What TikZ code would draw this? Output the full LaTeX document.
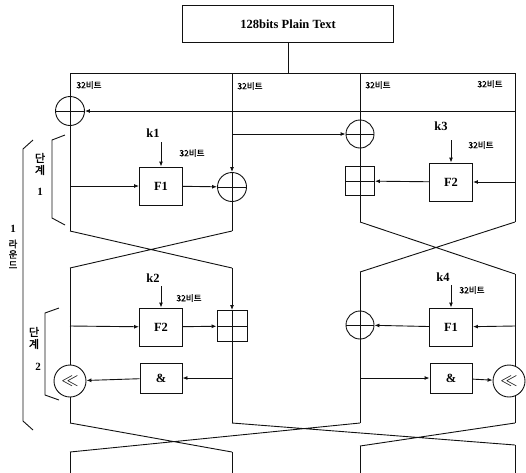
\documentclass[tikz,border=0pt]{standalone}
\usepackage{fontspec}
\setmainfont{Liberation Serif}
\newfontfamily\kr[FakeBold=1.5]{Noto Sans CJK KR}
\usetikzlibrary{positioning,arrows.meta}
\definecolor{ink}{HTML}{111111}

\tikzset{
  lane/.style={draw=ink,line width=0.9pt},
  arr/.style={lane,-{Latex[length=5pt,width=4pt]}},
  fbox/.style={draw=ink,line width=0.9pt,fill=white,minimum width=43pt,minimum height=38pt,
    inner sep=0pt,font=\bfseries\fontsize{12.5}{14}\selectfont},
  andbox/.style={fbox,minimum width=42pt,minimum height=30pt},
  xorop/.style={circle,draw=ink,line width=0.9pt,fill=white,minimum size=29pt,inner sep=0pt,
    path picture={\draw[ink,line width=0.9pt]
      (path picture bounding box.north) -- (path picture bounding box.south)
      (path picture bounding box.west) -- (path picture bounding box.east);}},
  addop/.style={xorop,rectangle,minimum width=29pt,minimum height=29pt},
  shiftop/.style={circle,draw=ink,fill=white,line width=0.9pt,minimum size=32pt,inner sep=0pt,
    font=\fontsize{17}{17}\selectfont},
  bits/.style={font=\kr\fontsize{8.5}{9}\selectfont,inner sep=1pt},
  keylab/.style={font=\bfseries\fontsize{12.5}{14}\selectfont,inner sep=1pt},
  numlab/.style={font=\bfseries\fontsize{11}{12}\selectfont,inner sep=1pt},
  stagelab/.style={font=\kr\fontsize{11}{12}\selectfont,align=center,inner sep=0pt},
}

\begin{document}
\begin{tikzpicture}[x=1pt,y=-1pt]
  \useasboundingbox (0,0) rectangle (526,472);

  % plain text block and the four 32-bit words
  \node[draw=ink,line width=0.9pt,minimum width=211pt,minimum height=37pt,
        font=\bfseries\fontsize{12.5}{14}\selectfont] (plain) at (288,24) {128bits Plain Text};
  \coordinate (stem) at (288,73);
  \foreach \n/\x in {1/70,2/232,3/360,4/515}
    \coordinate (t\n) at (\x,73);
  \draw[lane] (plain) -- (stem);
  \draw[lane] (t1) -- (t4);
  \foreach \n/\x/\y in {1/89/85,2/250/86,3/378/85,4/490/84}
    \node[bits] (w\n) at (\x,\y) {32비트};

  % stage 1
  \node[xorop] (xorA) at (70,111) {};
  \node[xorop,minimum size=28pt] (xorB) at (360,134) {};
  \node[xorop] (xorC) at (232,187) {};
  \node[addop] (addA) at (360,181) {};
  \node[fbox] (fA) at (161,186) {F1};
  \node[fbox] (fB) at (451,182) {F2};
  \node[keylab] (kA) at (153,133) {k1};
  \node[keylab] (kB) at (441,126) {k3};
  \node[bits] (bA) at (192,153) {32비트};
  \node[bits] (bB) at (481,145) {32비트};
  \coordinate (h4) at (515,111);
  \coordinate (b2) at (232,134);
  \coordinate (a1) at (70,186);
  \coordinate (a4) at (515,182);
  \coordinate (kA1) at (161,142);
  \coordinate (kB1) at (451,140);
  \foreach \n/\x/\y in {1/70/231,2/232/231,3/360/222,4/515/222}
    \coordinate (u\n) at (\x,\y);

  \draw[lane] (t1) -- (xorA) -- (u1);
  \draw[arr] (t2) -- (xorC);
  \draw[lane] (xorC) -- (u2);
  \draw[lane] (t3) -- (xorB) -- (addA) -- (u3);
  \draw[lane] (t4) -- (u4);
  \draw[arr] (h4) -- (xorA);
  \draw[arr] (b2) -- (xorB);
  \draw[arr] (a1) -- (fA);
  \draw[arr] (fA) -- (xorC);
  \draw[arr] (a4) -- (fB);
  \draw[arr] (fB) -- (addA);
  \draw[arr] (kA1) -- (fA);
  \draw[arr] (kB1) -- (fB);

  % swap after stage 1
  \foreach \n/\x/\y in {1/70/268,2/232/268,3/360/272,4/515/274}
    \coordinate (v\n) at (\x,\y);
  \draw[lane] (u1) -- (v2) (u2) -- (v1) (u3) -- (v4) (u4) -- (v3);

  % stage 2
  \foreach \n/\x in {1/70,2/232,3/360,4/515}
    \coordinate (q\n) at (\x,423);
  \draw[lane] (v4) -- (q4);
  \node[shiftop] (shL) at (70,381) {$\ll$};
  \node[shiftop] (shR) at (509,381) {$\ll$};
  \node[addop,minimum width=30pt,minimum height=31pt] (addB) at (232,326) {};
  \node[xorop,minimum size=28pt] (xorD) at (360,325) {};
  \node[fbox] (fC) at (161,327) {F2};
  \node[fbox] (fD) at (451,327) {F1};
  \node[andbox] (andA) at (161,378) {\&};
  \node[andbox] (andB) at (451,378) {\&};
  \node[keylab] (kC) at (153,278) {k2};
  \node[keylab] (kD) at (443,277) {k4};
  \node[bits] (bC) at (189,298) {32비트};
  \node[bits] (bD) at (472,290) {32비트};
  \coordinate (c1) at (70,326);
  \coordinate (c4) at (515,326);
  \coordinate (d2) at (232,378);
  \coordinate (d3) at (360,378);
  \coordinate (kC1) at (161,286);
  \coordinate (kD1) at (451,285);

  \draw[lane] (v1) -- (shL) -- (q1);
  \draw[arr] (v2) -- (addB);
  \draw[lane] (addB) -- (q2);
  \draw[lane] (v3) -- (xorD) -- (q3);
  \draw[arr] (c1) -- (fC);
  \draw[arr] (fC) -- (addB);
  \draw[arr] (c4) -- (fD);
  \draw[arr] (fD) -- (xorD);
  \draw[arr] (d2) -- (andA);
  \draw[arr] (andA) -- (shL);
  \draw[arr] (d3) -- (andB);
  \draw[arr] (andB) -- (shR);
  \draw[arr] (kC1) -- (fC);
  \draw[arr] (kD1) -- (fD);

  % output permutation
  \foreach \n/\x/\y in {1/70/452,2/232/452,3/360/446,4/515/445}
    \coordinate (z\n) at (\x,\y);
  \foreach \n/\x in {1/70,2/232,3/360,4/515}
    \coordinate (e\n) at (\x,473);
  \draw[lane] (q1) -- (z2) (q3) -- (z1) (q2) -- (z4) (q4) -- (z3);
  \draw[lane] (z1) -- (e1) (z2) -- (e2) (z3) -- (e3) (z4) -- (e4);

  % brackets for stages and round
  \draw[lane] (65,135) -- (52,140) -- (52,218) -- (65,225);
  \draw[lane] (59,308) -- (45,313) -- (45,395) -- (59,400);
  \draw[lane] (33,140) -- (23,149) -- (23,421) -- (33,430);
  \node[stagelab] (sA) at (40,164) {단\\계};
  \node[numlab] (nA) at (40,192) {1};
  \node[stagelab] (sB) at (34,338) {단\\계};
  \node[numlab] (nB) at (38,367) {2};
  \node[numlab] (rn) at (13,229) {1};
  \node[stagelab,font=\kr\fontsize{9.5}{10.5}\selectfont] (rl) at (13,254) {라\\운\\드};
\end{tikzpicture}
\end{document}
